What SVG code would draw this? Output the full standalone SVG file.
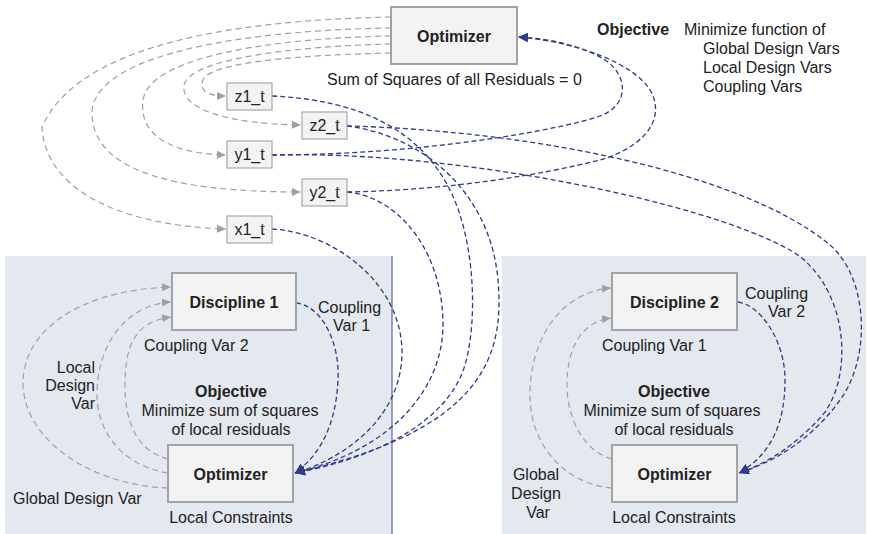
<svg xmlns="http://www.w3.org/2000/svg" width="870" height="534" viewBox="0 0 870 534">
<style>
text{font-family:"Liberation Sans",Arial,sans-serif;font-size:16px;fill:#222}
.b{font-weight:bold}
.m{text-anchor:middle}
.e{text-anchor:end}
.box{fill:#f3f3f3;stroke:#a3a3a3;stroke-width:2}
.sbox{fill:#f3f3f3;stroke:#a8a8a8;stroke-width:1.2}
.panel{fill:#e4e8ef}
.g{fill:none;stroke:#a0a0a0;stroke-width:1.2;stroke-dasharray:6 4;marker-end:url(#ga)}
.bl{fill:none;stroke:#2e3a8c;stroke-width:1.3;stroke-dasharray:5 3}
.ba{marker-end:url(#bla)}
</style>
<defs>
<marker id="ga" markerUnits="userSpaceOnUse" markerWidth="10" markerHeight="8" refX="9" refY="4" orient="auto">
<path d="M0,0 L9,4 L0,8 z" fill="#a0a0a0"/>
</marker>
<marker id="bla" markerUnits="userSpaceOnUse" markerWidth="11" markerHeight="9" refX="10" refY="4.5" orient="auto">
<path d="M0,0 L10,4.5 L0,9 z" fill="#2e3a8c"/>
</marker>
</defs>

<g id="panels">
<rect class="panel" x="5" y="256" width="387" height="278"/>
<line x1="392" y1="256" x2="392" y2="534" stroke="#3a48a0" stroke-width="1"/>
<rect class="panel" x="502" y="256" width="364" height="278"/>
</g>

<g id="connectors">
<!-- gray: system optimizer to targets -->
<path class="g" d="M391,17 C250,20 80,40 42,127 C45,185 110,225 226,229"/>
<path class="g" d="M391,28 C260,30 100,50 92,110 C90,170 170,192 301,192"/>
<path class="g" d="M391,36 C280,38 150,55 143,100 C138,140 180,154 226,155"/>
<path class="g" d="M391,44 C300,46 190,58 184,85 C180,110 230,124 301,125"/>
<path class="g" d="M391,53 C300,55 210,62 203,80 C198,92 210,96 226,96"/>
<!-- gray: local loops left -->
<path class="g" d="M168,488 C90,485 25,440 23,385 C22,330 80,290 171,287"/>
<path class="g" d="M168,473 C120,465 97,430 97,395 C97,345 125,305 171,302"/>
<path class="g" d="M168,459 C135,450 125,420 125,385 C125,345 135,322 171,317"/>
<!-- gray: local loops right -->
<path class="g" d="M612,488 C570,485 530,450 530,395 C530,340 560,292 611,288"/>
<path class="g" d="M612,459 C585,452 567,420 567,385 C567,350 580,322 611,318"/>
<!-- blue: targets to left optimizer -->
<path class="bl ba" d="M272,229 C330,232 400,280 402,350 C403,420 340,460 295,473"/>
<path class="bl ba" d="M296,303 C320,305 340,340 338,380 C336,425 320,455 295,473"/>
<path class="bl ba" d="M347,192 C390,195 440,240 443,320 C445,390 390,450 295,473"/>
<path class="bl ba" d="M272,96 C360,100 420,130 450,190 C475,240 478,320 465,365 C450,415 390,455 295,473"/>
<path class="bl ba" d="M347,126 C420,135 490,190 498,280 C505,360 480,430 295,473"/>
<!-- blue: to right optimizer -->
<path class="bl ba" d="M272,155 C450,150 700,200 790,250 C850,285 855,380 820,418 C795,445 770,462 739,473"/>
<path class="bl ba" d="M347,126 C520,130 740,170 830,245 C870,280 870,360 840,400 C815,435 780,460 739,473"/>
<path class="bl ba" d="M738,302 C760,305 785,340 785,380 C785,425 770,455 739,473"/>
<!-- blue: to system optimizer -->
<path class="bl ba" d="M272,155 C420,155 560,130 600,116 C630,105 628,75 605,60 C585,47 550,38 518,37"/>
<path class="bl ba" d="M347,192 C450,190 540,175 600,160 C650,145 665,115 650,90 C635,65 580,42 518,37"/>
</g>

<g id="sysopt">
<rect class="box" x="391" y="7" width="126" height="57"/>
<text class="b m" x="454" y="42">Optimizer</text>
</g>
<g id="sysopt-labels">
<text x="327" y="85">Sum of Squares of all Residuals = 0</text>
<text class="b" x="597" y="35">Objective</text>
<text x="684" y="35">Minimize function of</text>
<text x="703" y="54">Global Design Vars</text>
<text x="703" y="73">Local Design Vars</text>
<text x="703" y="92">Coupling Vars</text>
</g>

<g id="z1_t"><rect class="sbox" x="227" y="83" width="45" height="27"/><text class="m" x="249.5" y="102">z1_t</text></g>
<g id="z2_t"><rect class="sbox" x="302" y="112" width="45" height="27"/><text class="m" x="324.5" y="131">z2_t</text></g>
<g id="y1_t"><rect class="sbox" x="227" y="141" width="45" height="27"/><text class="m" x="249.5" y="160">y1_t</text></g>
<g id="y2_t"><rect class="sbox" x="302" y="179" width="45" height="27"/><text class="m" x="324.5" y="198">y2_t</text></g>
<g id="x1_t"><rect class="sbox" x="227" y="216" width="45" height="27"/><text class="m" x="249.5" y="235">x1_t</text></g>

<g id="discipline1">
<rect class="box" x="172" y="273" width="124" height="57"/>
<text class="b m" x="234" y="308">Discipline 1</text>
</g>
<g id="optimizer1">
<rect class="box" x="168" y="445" width="125" height="57"/>
<text class="b m" x="230.5" y="480">Optimizer</text>
</g>
<g id="left-labels">
<text x="318" y="313">Coupling</text>
<text x="333" y="331">Var 1</text>
<text x="144" y="351">Coupling Var 2</text>
<text class="e" x="95" y="373">Local</text>
<text class="e" x="95" y="391">Design</text>
<text class="e" x="95" y="409">Var</text>
<text class="b m" x="231" y="397">Objective</text>
<text class="m" x="230" y="416">Minimize sum of squares</text>
<text class="m" x="231" y="435">of local residuals</text>
<text x="13" y="504">Global Design Var</text>
<text class="m" x="231" y="523">Local Constraints</text>
</g>

<g id="discipline2">
<rect class="box" x="612" y="273" width="125" height="57"/>
<text class="b m" x="674.5" y="308">Discipline 2</text>
</g>
<g id="optimizer2">
<rect class="box" x="612" y="445" width="125" height="57"/>
<text class="b m" x="674.5" y="480">Optimizer</text>
</g>
<g id="right-labels">
<text x="745" y="299">Coupling</text>
<text x="768" y="317">Var 2</text>
<text x="602" y="351">Coupling Var 1</text>
<text class="b m" x="674" y="397">Objective</text>
<text class="m" x="672" y="416">Minimize sum of squares</text>
<text class="m" x="674" y="435">of local residuals</text>
<text class="m" x="536" y="480">Global</text>
<text class="m" x="536" y="499">Design</text>
<text class="m" x="538" y="518">Var</text>
<text class="m" x="674" y="523">Local Constraints</text>
</g>
</svg>
